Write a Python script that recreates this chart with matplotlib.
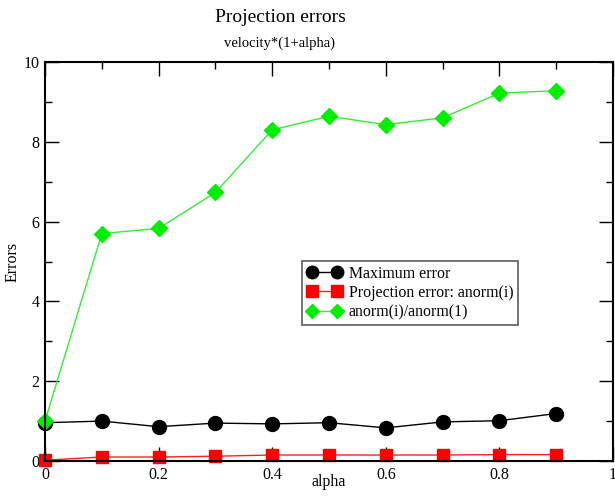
import matplotlib
matplotlib.use("Agg")
import matplotlib.pyplot as plt
from matplotlib.ticker import MultipleLocator

plt.rcParams['font.family'] = ['Liberation Serif', 'DejaVu Serif']

alpha = [0.0, 0.1, 0.2, 0.3, 0.4, 0.5, 0.6, 0.7, 0.8, 0.9]
max_error = [0.96, 1.00, 0.86, 0.95, 0.93, 0.96, 0.83, 0.98, 1.01, 1.19]
proj_error = [0.02, 0.10, 0.10, 0.12, 0.15, 0.15, 0.15, 0.15, 0.16, 0.16]
anorm_ratio = [1.00, 5.70, 5.83, 6.73, 8.30, 8.64, 8.43, 8.60, 9.22, 9.28]

labels = ["Maximum error", "Projection error: anorm(i)", "anorm(i)/anorm(1)"]

W, H = 615, 501
fig = plt.figure(figsize=(W / 100, H / 100), dpi=100)
ax_left, ax_right, ax_top, ax_bot = 45, 613, 62, 461
ax = fig.add_axes([ax_left / W, 1 - ax_bot / H, (ax_right - ax_left) / W, (ax_bot - ax_top) / H])

ax.plot(alpha, max_error, color='black', lw=1.0, marker='o', ms=10,
        label=labels[0], clip_on=False, zorder=3)
ax.plot(alpha, proj_error, color='#ff2020', lw=1.0, marker='s', ms=9,
        mfc='red', mec='red', label=labels[1], clip_on=False, zorder=3)
ax.plot(alpha, anorm_ratio, color='#33ee33', lw=1.0, marker='D', ms=8,
        mfc='#00ee00', mec='#00ee00', label=labels[2], clip_on=False, zorder=4)

ax.set_xlim(0, 1)
ax.set_ylim(0, 10)
ax.xaxis.set_minor_locator(MultipleLocator(0.1))
ax.yaxis.set_minor_locator(MultipleLocator(1))
ax.set_xticks([0, 0.2, 0.4, 0.6, 0.8, 1.0])
ax.set_xticklabels(["0", "0.2", "0.4", "0.6", "0.8", "1"])
ax.set_yticks([0, 2, 4, 6, 8, 10])
ax.set_yticklabels(["0", "2", "4", "6", "8", "10"])
ax.tick_params(which='both', direction='in', top=True, right=True,
               labelsize=11.5, pad=4, width=1.0, color='black')
ax.tick_params(which='major', length=10)
ax.tick_params(which='minor', length=5)
for s in ax.spines.values():
    s.set_linewidth(1.5)
    s.set_zorder(5)

ax.set_xlabel("alpha", fontsize=11.5, va='center')
ax.xaxis.set_label_coords(0.5, -(482 - ax_bot) / (ax_bot - ax_top))
ax.set_ylabel("Errors", fontsize=11.5, va='center')
ax.yaxis.set_label_coords(-(ax_left - 13) / (ax_right - ax_left), 0.5)

fig.text(280 / W, 1 - 18 / H, "Projection errors", ha='center', va='center', fontsize=14)
fig.text(280 / W, 1 - 43 / H, "velocity*(1+alpha)", ha='center', va='center', fontsize=10.5)

leg = ax.legend(loc='upper left', bbox_to_anchor=(302 / W, 1 - 261 / H),
                bbox_transform=fig.transFigure, borderaxespad=0,
                numpoints=2, fontsize=11.4, frameon=True, fancybox=False,
                handlelength=2.2, handletextpad=0.45, borderpad=0.3,
                labelspacing=0.2, markerscale=0.9)
leg.get_frame().set_edgecolor('#333333')
leg.get_frame().set_linewidth(1.2)
leg.set_zorder(6)

fig.savefig("out.png", dpi=100)
